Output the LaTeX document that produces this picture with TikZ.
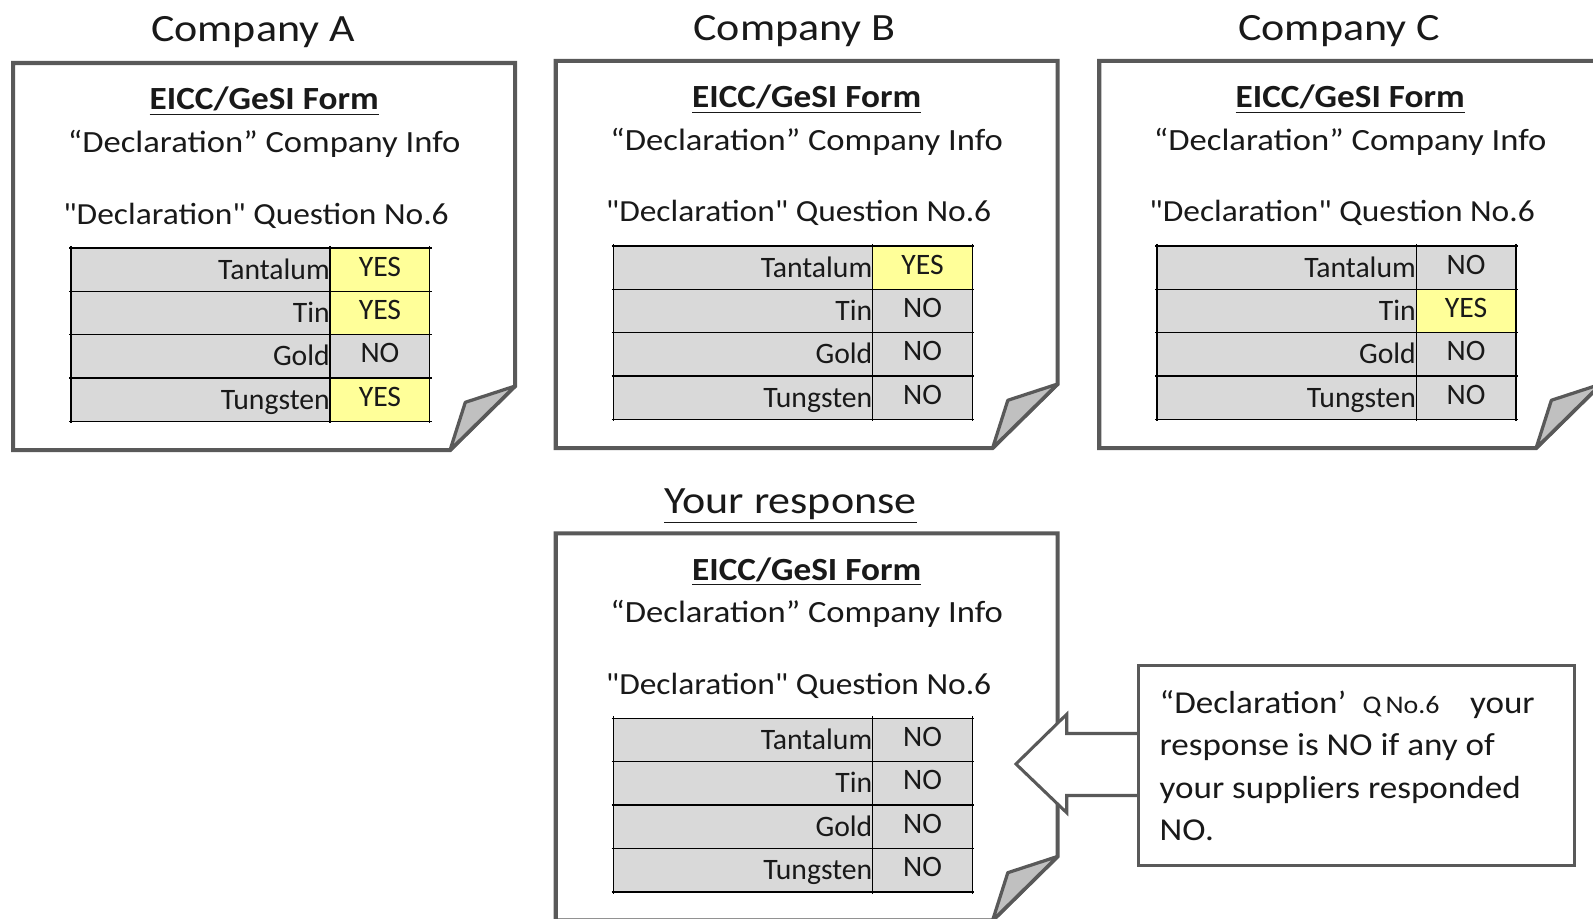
\documentclass[tikz,border=0pt]{standalone}
\usepackage{fontspec}
\setmainfont{Carlito}
\newfontfamily\ttlfont[FakeStretch=1.14]{Carlito}
\newfontfamily\hdfont[FakeStretch=1.09]{Carlito}
\newfontfamily\infofont[FakeStretch=1.12]{Carlito}
\newfontfamily\questfont[FakeStretch=1.09]{Carlito}
\newfontfamily\callfont[FakeStretch=1.1]{Carlito}
\definecolor{frame}{RGB}{89,89,89}
\definecolor{cellgray}{RGB}{217,217,217}
\definecolor{cellyel}{RGB}{255,255,153}
\definecolor{flapgray}{RGB}{192,192,192}
\definecolor{ink}{RGB}{25,25,25}
\tikzset{
  formedge/.style={draw=frame, line width=2pt, fill=white, line join=miter},
  flapstyle/.style={draw=frame, line width=1.6pt, fill=flapgray, line join=round},
  tline/.style={draw=black, line width=0.7pt},
  lbl/.style={anchor=base east, inner sep=0pt, text=ink, font=\fontsize{14.6}{16}\selectfont},
  val/.style={anchor=base, inner sep=0pt, text=ink, font=\fontsize{14.6}{16}\selectfont},
  ttl/.style={anchor=base, inner sep=0pt, text=ink, font=\ttlfont\fontsize{19}{22}\selectfont},
  hd/.style={anchor=base, inner sep=0pt, text=ink, font=\hdfont\bfseries\fontsize{15.9}{18}\selectfont},
  info/.style={anchor=base, inner sep=0pt, text=ink, font=\infofont\fontsize{15.2}{17}\selectfont},
  quest/.style={anchor=base, inner sep=0pt, text=ink, font=\questfont\fontsize{15.1}{17}\selectfont},
  calltext/.style={anchor=base west, inner sep=0pt, text=ink, font=\callfont\fontsize{15.7}{18}\selectfont},
  arrowshape/.style={draw=frame, line width=1.5pt, fill=white, line join=miter},
  callbox/.style={draw=frame, line width=1.5pt, fill=white, inner sep=0pt,
    minimum width=214.5pt, minimum height=98.5pt},
}
% #1 prefix, #2 left, #3 top, #4..#7 colour/value of the four rows
\newcommand\supplierform[7]{%
\begin{scope}[shift={(#2,#3)}]
  \path[formedge] (0,0) -- (494,0) -- (494,318) -- (430,381) -- (0,381) -- cycle;
  \path[flapstyle] (494,318) -- (445,334) -- (430,381) -- cycle;
  \node[hd] (#1-form) at (247,46) {\underline{EICC/GeSI Form}};
  \node[info] (#1-info) at (247,88) {“Declaration” Company Info};
  \node[quest] (#1-q) at (239,158.5) {"Declaration" Question No.6};
  \foreach \m/\c/\v [count=\i from 0] in {Tantalum/#4,Tin/#5,Gold/#6,Tungsten/#7} {
    \path[fill=cellgray] ({57},{182+\i*42.7}) rectangle ({312},{182+(\i+1)*42.7});
    \path[fill=\c] ({312},{182+\i*42.7}) rectangle ({410},{182+(\i+1)*42.7});
    \node[lbl] (#1-l\i) at ({312},{182+(\i+1)*42.7-12}) {\m};
    \node[val] (#1-v\i) at ({361},{182+(\i+1)*42.7-15}) {\v};
  }
  \foreach \k in {0,...,4} {
    \draw[tline] ({55},{182+\k*42.7}) -- ({412},{182+\k*42.7});
  }
  \foreach \xx in {57,312,410} {
    \draw[tline] ({\xx},{180}) -- ({\xx},{182+4*42.7+2});
  }
\end{scope}}
\begin{document}
\begin{tikzpicture}[x=0.5pt,y=-0.5pt]
\useasboundingbox (0,0) rectangle (1568,904);
\fill[white] (0,0) rectangle (1568,904);

\node[ttl] (tA) at (249,41) {Company A};
\node[ttl] (tB) at (782,40) {Company B};
\node[ttl] (tC) at (1318,40) {Company C};
\node[ttl] (tY) at (778,505) {\underline{Your response}};

\supplierform{A}{13}{62}{cellyel/YES}{cellyel/YES}{cellgray/NO}{cellyel/YES}
\supplierform{B}{547}{60}{cellyel/YES}{cellgray/NO}{cellgray/NO}{cellgray/NO}
\supplierform{C}{1082}{60}{cellgray/NO}{cellyel/YES}{cellgray/NO}{cellgray/NO}
\supplierform{Y}{547}{525}{cellgray/NO}{cellgray/NO}{cellgray/NO}{cellgray/NO}

\node[callbox] (call) at (1335.5,753.5) {};
\coordinate (sT) at (1050,722);
\coordinate (sB) at (1050,783);
\path[arrowshape] (call.west |- sT) -- (sT) -- (1050,703) -- (1000,752)
   -- (1050,800) -- (sB) -- (call.west |- sB);
\node[callbox, fill=none] (callframe) at (call.center) {};

\node[calltext] (c1) at (1141,702) {“Declaration’\hspace{8pt}{\fontsize{12.5}{13}\selectfont Q\,No.6}\hspace{15pt}your};
\node[calltext] (c2) at (1141,744) {response is NO if any of};
\node[calltext] (c3) at (1141,786) {your suppliers responded};
\node[calltext] (c4) at (1141,827) {NO.};
\end{tikzpicture}
\end{document}
